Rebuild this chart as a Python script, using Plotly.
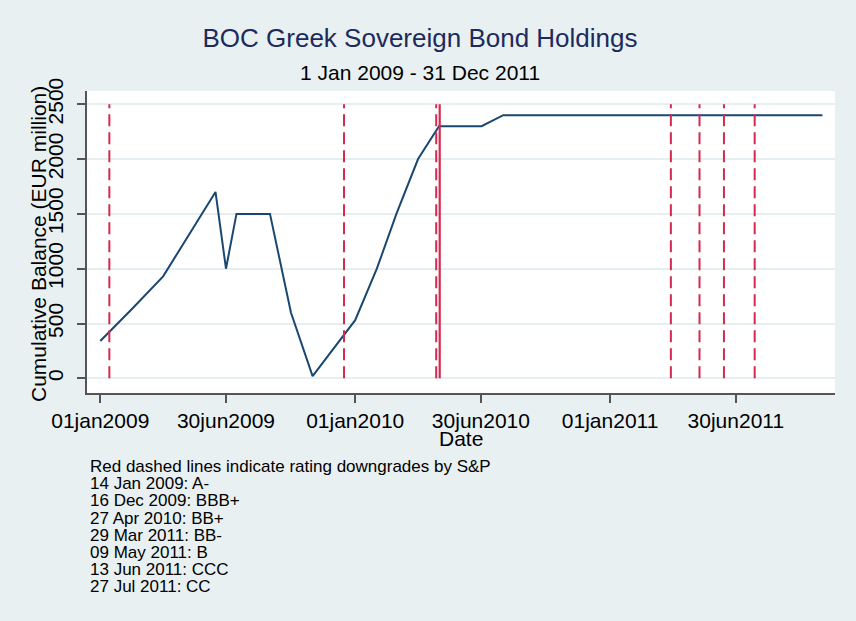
import plotly.graph_objects as go

# ---- data ----
dates = ["2009-01-01", "2009-02-15", "2009-04-01", "2009-06-15", "2009-06-30",
         "2009-07-15", "2009-09-01", "2009-10-01", "2009-11-01", "2010-01-01",
         "2010-02-01", "2010-03-01", "2010-04-01", "2010-05-01", "2010-07-01",
         "2010-08-01", "2011-11-01"]
balance = [340, 630, 930, 1700, 1000, 1500, 1500, 600, 20, 530,
           1000, 1500, 2000, 2300, 2300, 2400, 2400]

downgrade_dates = ["2009-01-14", "2009-12-16", "2010-04-27", "2011-03-29",
                   "2011-05-09", "2011-06-13", "2011-07-27"]
solid_line_dates = ["2010-05-02"]

xtick_vals = ["2009-01-01", "2009-06-30", "2010-01-01", "2010-06-30",
              "2011-01-01", "2011-06-30"]
xtick_text = ["01jan2009", "30jun2009", "01jan2010", "30jun2010",
              "01jan2011", "30jun2011"]
ytick_vals = [0, 500, 1000, 1500, 2000, 2500]

note_lines = ["Red dashed lines indicate rating downgrades by S&P",
              "14 Jan 2009: A-", "16 Dec 2009: BBB+", "27 Apr 2010: BB+",
              "29 Mar 2011: BB-", "09 May 2011: B", "13 Jun 2011: CCC",
              "27 Jul 2011: CC"]

title_text = "BOC Greek Sovereign Bond Holdings"
subtitle_text = "1 Jan 2009 - 31 Dec 2011"
ytitle = "Cumulative Balance (EUR million)"
xtitle = "Date"

# ---- style ----
FONT = "Arial, 'Liberation Sans', sans-serif"
BG = "#e9f0f2"
NAVY = "#1a476f"
RED = "#d42a4f"

W, H = 856, 621
ML, MR, MT, MB = 87, 21, 91, 228
PH = H - MT - MB
PW = W - ML - MR

fig = go.Figure()
fig.add_trace(go.Scatter(x=dates, y=balance, mode="lines",
                         line=dict(color=NAVY, width=2), showlegend=False,
                         hoverinfo="skip"))

for d in downgrade_dates:
    fig.add_shape(type="line", xref="x", yref="y", x0=d, x1=d, y0=0, y1=2500,
                  line=dict(color=RED, width=2, dash="12px,6px"), layer="above")
for d in solid_line_dates:
    fig.add_shape(type="line", xref="x", yref="y", x0=d, x1=d, y0=0, y1=2500,
                  line=dict(color=RED, width=2.2), layer="above")

def py(pix):
    return (H - MB - pix) / PH

def px(pix):
    return (pix - ML) / PW

annotations = [
    dict(text=subtitle_text, xref="paper", yref="paper", x=px(420), y=py(73),
         xanchor="center", yanchor="middle", showarrow=False,
         font=dict(family=FONT, size=21, color="black")),
    dict(text=xtitle, xref="paper", yref="paper", x=0.5, y=py(438),
         xanchor="center", yanchor="middle", showarrow=False,
         font=dict(family=FONT, size=21, color="black")),
    dict(text=ytitle, xref="paper", yref="paper", x=px(38), y=py(244),
         xanchor="center", yanchor="middle", showarrow=False, textangle=-90,
         font=dict(family=FONT, size=21, color="black")),
]
for i, line in enumerate(note_lines):
    annotations.append(dict(text=line, xref="paper", yref="paper",
                            x=px(88), y=py(466.5 + i * 17.2),
                            xanchor="left", yanchor="middle", showarrow=False,
                            font=dict(family=FONT, size=17, color="black")))

fig.update_layout(
    width=W, height=H,
    margin=dict(l=ML, r=MR, t=MT, b=MB),
    paper_bgcolor=BG, plot_bgcolor="white",
    title=dict(text=title_text, x=420 / W, xref="container", xanchor="center",
               y=1 - 38 / H, yref="container", yanchor="middle",
               font=dict(family=FONT, size=26, color="#1c2b5c")),
    font=dict(family=FONT, size=21, color="black"),
    annotations=annotations,
    xaxis=dict(type="date", range=["2008-12-13", "2011-11-19"],
               tickvals=xtick_vals, ticktext=xtick_text,
               showgrid=False, zeroline=False,
               showline=True, linecolor="#555555", linewidth=1.5,
               ticks="outside", ticklen=8, tickcolor="#555555", tickwidth=1.5,
               tickfont=dict(family=FONT, size=21, color="black")),
    yaxis=dict(range=[-134, 2621], tickvals=ytick_vals,
               showgrid=True, gridcolor="#e6eef1", gridwidth=2,
               zeroline=False,
               showline=True, linecolor="#555555", linewidth=1.5,
               ticks="outside", ticklen=8, tickcolor="#555555", tickwidth=1.5,
               tickangle=-90, ticklabelstandoff=6,
               tickfont=dict(family=FONT, size=21, color="black")),
)

fig.write_html("out.html")
